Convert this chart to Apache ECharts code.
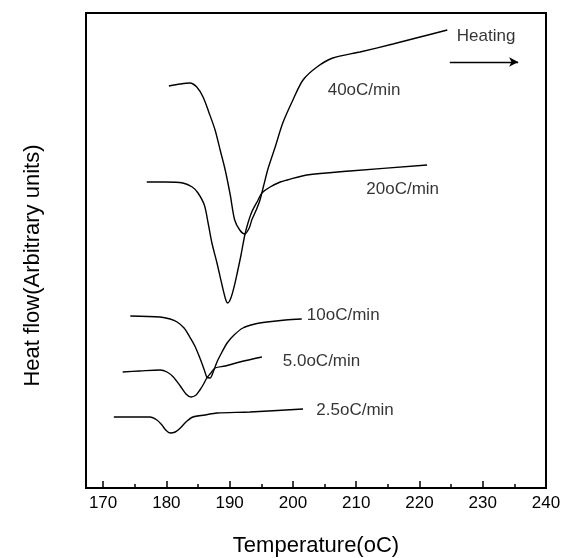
<!DOCTYPE html>
<html>
<head>
<meta charset="utf-8">
<script src="https://cdn.jsdelivr.net/npm/echarts@6/dist/echarts.min.js"></script>
<style>
html,body{margin:0;padding:0;background:#fff;}
#chart{width:566px;height:558px;}
</style>
</head>
<body>
<div id="chart"></div>
<script>
// Tick labels and ticks (Temperature, °C)
const tickLabels = [170, 180, 190, 200, 210, 220, 230, 240];
const minorTicks = [175, 185, 195, 205, 215, 225, 235];

// DSC traces: [Temperature (°C), heat flow (arbitrary units)]
const rate40 = [[180.4,402],[182.2,404],[183.7,405],[184.8,401],[185.8,391],[186.7,376],[187.7,358],[188.5,338],[189.3,318],[190.1,293],[190.8,268],[191.6,258],[192.4,254],[193.1,260],[193.5,268],[194.2,278],[194.8,288],[195.4,303],[196.1,320],[197.2,341],[198.4,365],[200.0,388],[201.6,408],[203.8,421],[206.3,430],[210.6,436],[215.8,444],[220.1,451],[224.4,458]];
const rate20 = [[176.9,306],[179.8,306],[182.6,305],[184.1,301],[185.0,295],[186.0,283],[186.6,265],[187.2,245],[188.0,225],[188.8,203],[189.4,188],[189.7,185],[190.2,190],[190.7,201],[191.2,215],[191.8,233],[192.4,253],[192.9,265],[193.5,276],[194.5,288],[195.1,295],[196.4,301],[198.0,306],[199.1,308],[202.2,313],[209.0,317],[221.2,323]];
const rate10 = [[174.3,172],[179.0,171],[180.6,169],[181.7,166],[182.8,160],[183.7,151],[184.5,142],[185.3,130],[186.0,118],[186.4,111],[186.9,110],[187.4,116],[188.0,126],[188.8,136],[189.6,145],[190.7,153],[192.1,160],[194.0,164],[195.9,166],[198.8,168],[201.4,169]];
const rate5 = [[173.1,116],[175.8,117],[179.0,118],[180.1,116],[181.1,111],[182.2,102],[183.1,94],[183.9,91],[184.7,93],[185.3,98],[185.8,103],[186.4,110],[186.9,114],[187.7,120],[189.3,122],[191.6,126],[195.1,131]];
const rate2_5 = [[171.7,71],[174.3,71],[177.4,71],[178.5,68],[179.3,63],[179.9,58],[180.6,55],[181.4,56],[182.2,60],[183.1,66],[184.2,71],[186.1,73],[188.0,75],[193.2,76],[201.6,79]];

// Annotation texts and their anchor positions (data units)
const labelTexts = ['Heating', '40oC/min', '20oC/min', '10oC/min', '5.0oC/min', '2.5oC/min'];
const labelX = [225.9, 205.5, 211.6, 202.2, 198.4, 203.7];
const labelY = [452, 398, 299, 173, 127, 78];
const labelSizes = [17, 17, 17, 17, 17, 17];
// Heating arrow
const arrowFrom = [224.8, 426];
const arrowTo = [235.6, 426];

const FONT = '"Liberation Sans", Arial, sans-serif';
const INK = '#000';
const chart = echarts.init(document.getElementById('chart'), null, {renderer: 'canvas'});

function trace(name, data) {
  return {
    name: name, type: 'line', data: data, showSymbol: false,
    smooth: 0.3,
    lineStyle: {color: INK, width: 1.4}, silent: true, z: 3
  };
}

const labelData = labelTexts.map((t, i) => ({
  value: [labelX[i], labelY[i]],
  label: {formatter: t, fontSize: labelSizes[i]}
}));

chart.setOption({
  animation: false,
  backgroundColor: '#fff',
  grid: {left: 86, right: 20, top: 13, bottom: 70, show: true, borderColor: INK, borderWidth: 2, outerBoundsMode: 'none', containLabel: false},
  xAxis: [{
    type: 'value', min: 167.3, max: 240, position: 'bottom',
    name: 'Temperature(oC)', nameLocation: 'middle', nameGap: 47,
    nameTextStyle: {fontFamily: FONT, fontSize: 22, color: INK},
    axisLine: {show: true, lineStyle: {color: INK, width: 2}},
    axisTick: {show: true, inside: true, length: 7, customValues: tickLabels, lineStyle: {color: INK, width: 1.5}},
    axisLabel: {customValues: tickLabels, fontFamily: FONT, fontSize: 17, color: INK, margin: 7, formatter: v => String(Math.round(v))},
    splitLine: {show: false}
  }, {
    type: 'value', min: 167.3, max: 240, position: 'bottom',
    axisLine: {show: false},
    axisTick: {show: true, inside: true, length: 4, customValues: minorTicks, lineStyle: {color: INK, width: 1.5}},
    axisLabel: {show: false},
    splitLine: {show: false}
  }],
  yAxis: {
    type: 'value', min: 0, max: 475,
    name: 'Heat flow(Arbitrary units)', nameLocation: 'middle', nameGap: 42,
    nameTextStyle: {fontFamily: FONT, fontSize: 22, color: INK, padding: [0, 30, 0, 0]},
    axisLine: {show: true, lineStyle: {color: INK, width: 2}},
    axisTick: {show: false}, axisLabel: {show: false}, splitLine: {show: false}
  },
  series: [
    trace('40oC/min', rate40),
    trace('20oC/min', rate20),
    trace('10oC/min', rate10),
    trace('5.0oC/min', rate5),
    trace('2.5oC/min', rate2_5),
    {
      type: 'scatter', symbolSize: 0, silent: true, z: 4,
      data: labelData,
      label: {show: true, position: 'right', distance: 0, color: INK, fontFamily: FONT},
      markLine: {
        silent: true, symbol: ['none', 'arrow'], symbolSize: [7, 9],
        lineStyle: {color: INK, width: 1.3, type: 'solid'},
        label: {show: false},
        data: [[{coord: arrowFrom}, {coord: arrowTo}]]
      }
    }
  ]
});
</script>
</body>
</html>
